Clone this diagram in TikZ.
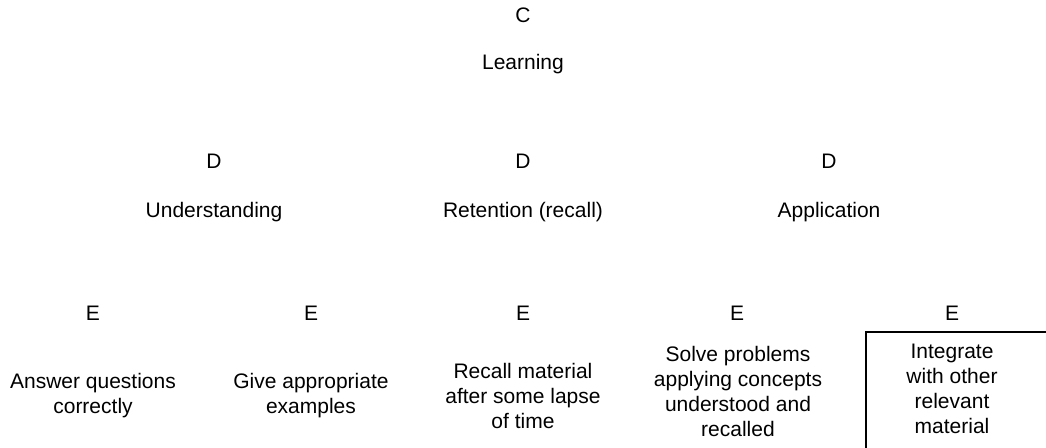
\documentclass[tikz,border=0pt]{standalone}
\usepackage{fontspec}
\setmainfont{Liberation Sans}
\begin{document}
\begin{tikzpicture}[x=1pt,y=-1pt,
  lbl/.style={anchor=base,inner sep=0pt,align=center,
    font=\fontsize{21}{25}\selectfont},
  frame/.style={line width=2pt}]
\useasboundingbox (0,0) rectangle (1046,447);
% top level
\node[lbl] (c)    at (523,23) {C};
\node[lbl] (learn) at (523,69) {Learning};
% second level
\node[lbl] (d1) at (214,168) {D};
\node[lbl] (d2) at (523,168) {D};
\node[lbl] (d3) at (829,168) {D};
\node[lbl] (und) at (214,217) {Understanding};
\node[lbl] (ret) at (523,217) {Retention (recall)};
\node[lbl] (app) at (829,217) {Application};
% third level (multi-line labels are placed by their last baseline)
\node[lbl] (e1) at (93,320) {E};
\node[lbl] (e2) at (311,320) {E};
\node[lbl] (e3) at (523,320) {E};
\node[lbl] (e4) at (737,320) {E};
\node[lbl] (e5) at (952,320) {E};
\node[lbl] (ans) at (93,413) {Answer questions\\correctly};
\node[lbl] (ex)  at (311,413) {Give appropriate\\examples};
\node[lbl] (rec) at (523,428) {Recall material\\after some lapse\\of time};
\node[lbl] (sol) at (738,436) {Solve problems\\applying concepts\\understood and\\recalled};
\node[lbl] (int) at (952,433) {Integrate\\with other\\relevant\\material};
% partial frame around the last item
\coordinate (fb) at (866,448);
\coordinate (ft) at (866,332);
\coordinate (fr) at (1047,332);
\draw[frame] (fb) -- (ft) -- (fr);
\end{tikzpicture}
\end{document}
